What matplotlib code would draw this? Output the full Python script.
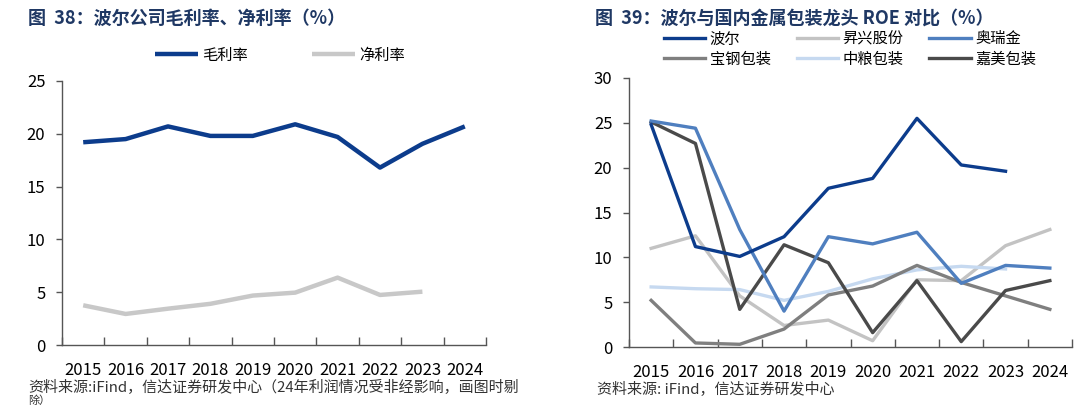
import matplotlib.pyplot as plt
from matplotlib.lines import Line2D

plt.rcParams['font.family'] = ['Noto Sans CJK SC', 'DejaVu Sans']

years = ['2015', '2016', '2017', '2018', '2019', '2020', '2021', '2022', '2023', '2024']

# figure 38: Ball gross / net margin (%)
gross_margin = [19.2, 19.5, 20.7, 19.8, 19.8, 20.9, 19.7, 16.8, 19.05, 20.7]
net_margin = [3.76, 2.94, 3.44, 3.9, 4.68, 4.96, 6.38, 4.74, 5.05]

# figure 39: ROE (%)
roe_ball = [24.8, 11.2, 10.1, 12.3, 17.7, 18.8, 25.5, 20.3, 19.6]
roe_shengxing = [11.0, 12.4, 5.7, 2.4, 3.0, 0.7, 7.5, 7.4, 11.3, 13.1]
roe_aoruijin = [25.2, 24.4, 13.1, 4.0, 12.3, 11.5, 12.8, 7.1, 9.1, 8.8]
roe_baogang = [5.2, 0.45, 0.3, 2.0, 5.8, 6.8, 9.1, 7.2, 5.7, 4.2]
roe_zhongliang = [6.7, 6.5, 6.4, 5.2, 6.2, 7.6, 8.6, 9.0, 8.7]
roe_jiamei = [25.1, 22.7, 4.2, 11.4, 9.4, 1.6, 7.4, 0.6, 6.3, 7.4]

NAVY = '#0C3C8C'
title_color = '#1F3864'

W, H = 1080, 407
fig = plt.figure(figsize=(W / 100, H / 100), dpi=100)


def px_axes(x0, x1, ytop, ybot):
    return fig.add_axes([x0 / W, 1 - ybot / H, (x1 - x0) / W, (ybot - ytop) / H])


def style_axes(ax, ymax, step):
    n = len(years)
    ax.set_xlim(-0.5, n - 0.5)
    ax.set_ylim(0, ymax)
    ax.set_yticks(range(0, ymax + 1, step))
    ax.set_xticks([i - 0.5 for i in range(n + 1)])
    ax.set_xticklabels([])
    ax.set_xticks(range(n), minor=True)
    ax.set_xticklabels(years, minor=True)
    ax.tick_params(axis='x', which='major', direction='in', length=6, width=1, color='#555555')
    ax.tick_params(axis='x', which='minor', length=0, pad=12, labelsize=12)
    ax.tick_params(axis='y', direction='out', length=4, width=1, color='#555555', pad=8, labelsize=12)
    for s in ['top', 'right']:
        ax.spines[s].set_visible(False)
    for s in ['left', 'bottom']:
        ax.spines[s].set_color('#555555')
        ax.spines[s].set_linewidth(1)


# left chart
ax1 = px_axes(62, 486, 81, 345)
x = list(range(len(years)))
ax1.plot(x, gross_margin, color=NAVY, lw=3.2, label='毛利率', solid_capstyle='butt')
ax1.plot(x[:len(net_margin)], net_margin, color='#C8C8C8', lw=3.2, label='净利率', solid_capstyle='butt')
style_axes(ax1, 25, 5)
ax1.legend(loc='center', bbox_to_anchor=(280 / W, 1 - 55 / H), bbox_transform=fig.transFigure,
           ncol=2, frameon=False, fontsize=11, handlelength=2.8, handletextpad=0.3,
           columnspacing=4.2)

# right chart
ax2 = px_axes(629, 1072, 78, 347)
series = [
    ('波尔', roe_ball, NAVY),
    ('昇兴股份', roe_shengxing, '#C3C3C3'),
    ('奥瑞金', roe_aoruijin, '#4F7FBF'),
    ('宝钢包装', roe_baogang, '#7F7F7F'),
    ('中粮包装', roe_zhongliang, '#C6D9F0'),
    ('嘉美包装', roe_jiamei, '#4A4A4A'),
]
draw_order = [1, 4, 3, 5, 2, 0]
for i in draw_order:
    name, vals, col = series[i]
    ax2.plot(x[:len(vals)], vals, color=col, lw=2.4)
style_axes(ax2, 30, 5)

handles = {name: Line2D([], [], color=col, lw=2.4) for name, vals, col in series}
leg_order = ['波尔', '宝钢包装', '昇兴股份', '中粮包装', '奥瑞金', '嘉美包装']
ax2.legend([handles[n] for n in leg_order], leg_order, loc='center',
           bbox_to_anchor=(850 / W, 1 - 49 / H), bbox_transform=fig.transFigure,
           ncol=3, frameon=False, fontsize=11, handlelength=2.7, handletextpad=0.3,
           columnspacing=1.7, labelspacing=0.2)

# titles
fig.text(28 / W, 1 - 18 / H, '图  38：波尔公司毛利率、净利率（%）', fontsize=13, fontweight='bold',
         color=title_color, va='center', ha='left')
fig.text(595 / W, 1 - 18 / H, '图  39：波尔与国内金属包装龙头 ROE 对比（%）', fontsize=13,
         fontweight='bold', color=title_color, va='center', ha='left')

# sources
fig.text(28 / W, 1 - 388 / H, '资料来源:iFind，信达证券研发中心（24年利润情况受非经影响，画图时剔',
         fontsize=10.8, color='#333333', va='center', ha='left')
fig.text(28 / W, 1 / H, '除）', fontsize=8, color='#333333', va='bottom', ha='left')
fig.text(597 / W, 1 - 390 / H, '资料来源: iFind，信达证券研发中心',
         fontsize=10.8, color='#333333', va='center', ha='left')

fig.savefig('out.png', dpi=100)
